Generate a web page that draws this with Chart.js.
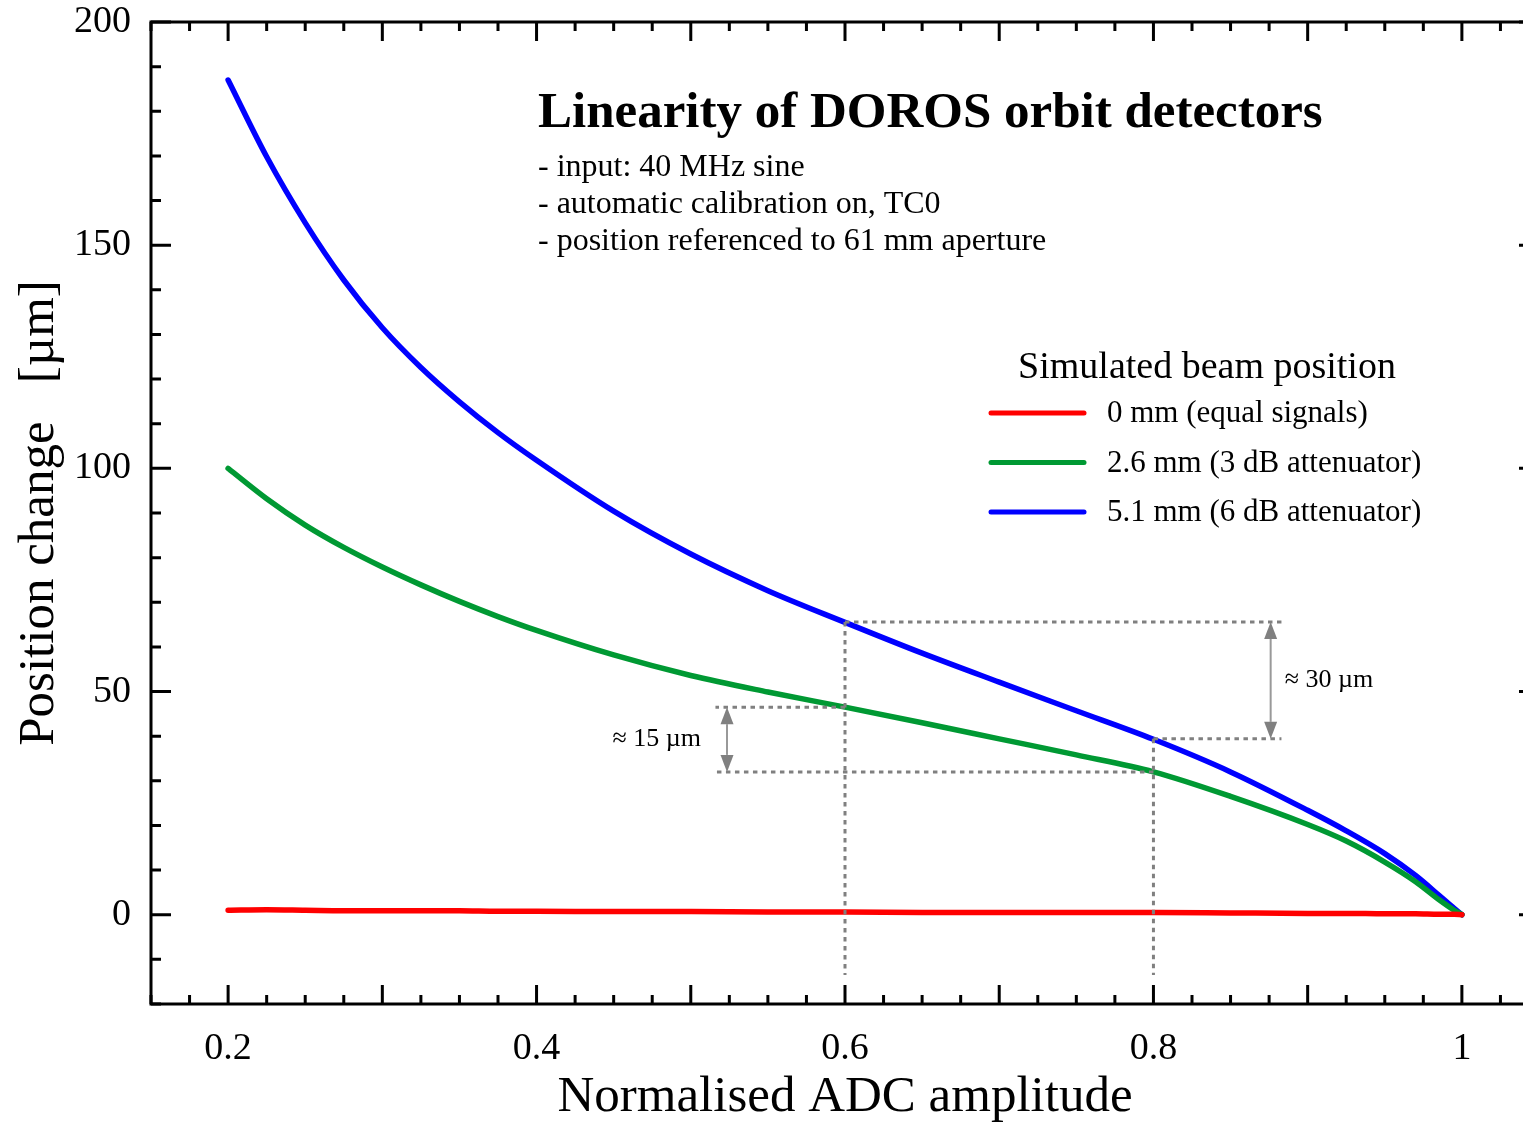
<!DOCTYPE html>
<html>
<head>
<meta charset="utf-8">
<script src="https://cdn.jsdelivr.net/npm/chart.js@4.4.1/dist/chart.umd.min.js"></script>
<style>
  html, body { margin: 0; padding: 0; background: #fff; overflow: hidden; }
  #wrap { width: 1560px; height: 1124px; }
</style>
</head>
<body>
<div id="wrap"><canvas id="chart" width="1560" height="1124"></canvas></div>
<script>
// values
const xValues = [0.2, 0.225, 0.25, 0.275, 0.3, 0.325, 0.35, 0.375, 0.4, 0.45, 0.5, 0.55, 0.6,
                 0.65, 0.7, 0.75, 0.8, 0.85, 0.9, 0.925, 0.95, 0.97, 0.985, 0.995, 1.0];
const redValues = [1.0, 1.1, 1.0, 0.9, 0.9, 0.9, 0.9, 0.8, 0.8, 0.7, 0.7, 0.6, 0.6,
                   0.5, 0.5, 0.5, 0.5, 0.4, 0.3, 0.3, 0.2, 0.2, 0.1, 0.1, 0.0];
const greenValues = [100, 93.2, 87.3, 82.3, 77.9, 73.9, 70.2, 66.8, 63.7, 58.2, 53.6, 49.9, 46.5,
                     43.0, 39.4, 35.8, 32.0, 26.5, 20.2, 16.5, 11.8, 7.4, 3.4, 1.0, 0];
const blueValues = [187.0, 169.8, 155.0, 142.2, 131.5, 122.6, 114.9, 108.0, 101.8, 90.4, 80.8, 72.6, 65.5,
                    58.6, 52.1, 45.7, 39.3, 32.0, 23.4, 18.8, 13.7, 8.8, 4.4, 1.4, 0];

const seriesLabels = ['0 mm (equal signals)', '2.6 mm (3 dB attenuator)', '5.1 mm (6 dB attenuator)'];
const seriesColors = ['#ff0000', '#009933', '#0000ff'];

const xTickLabels = [0.2, 0.4, 0.6, 0.8, 1];
const yTickLabels = [0, 50, 100, 150, 200];

const titleText = 'Linearity of DOROS orbit detectors';
const noteLines = ['- input: 40 MHz sine', '- automatic calibration on, TC0', '- position referenced to 61 mm aperture'];
const legendTitle = 'Simulated beam position';

// dotted guide lines: x of the markers, and the curve levels there
const markX = [0.6, 0.8];
const blueAtMark = [65.6, 39.4];
const greenAtMark = [46.5, 32.0];
const guideBottom = -13.5;
const arrowX = [0.5235, 0.876];
const guideEnds = [0.516, 0.883];
const arrowLabels = ['≈ 15 µm', '≈ 30 µm'];

const SERIF = '"Liberation Serif", "DejaVu Serif", serif';

function toPoints(ys) {
    return xValues.map((x, i) => ({ x: x, y: ys[i] }));
}

const allSeries = [redValues, greenValues, blueValues];

function isMultiple(v, step) {
    const r = v / step;
    return Math.abs(r - Math.round(r)) < 1e-6;
}

const framePlugin = {
    id: 'frame',
    afterDraw(chart) {
        const ctx = chart.ctx;
        const a = chart.chartArea;
        const xs = chart.scales.x;
        const ys = chart.scales.y;
        ctx.save();

        // dotted guides
        ctx.strokeStyle = '#808080';
        ctx.lineWidth = 3;
        ctx.setLineDash([4.5, 4.5]);
        const px = v => xs.getPixelForValue(v);
        const py = v => ys.getPixelForValue(v);
        const seg = (x1, y1, x2, y2) => {
            ctx.beginPath();
            ctx.moveTo(px(x1), py(y1));
            ctx.lineTo(px(x2), py(y2));
            ctx.stroke();
        };
        seg(markX[0], blueAtMark[0], markX[0], guideBottom);
        seg(markX[1], blueAtMark[1], markX[1], guideBottom);
        seg(markX[0], blueAtMark[0], guideEnds[1], blueAtMark[0]);
        seg(markX[1], blueAtMark[1], guideEnds[1], blueAtMark[1]);
        seg(markX[0], greenAtMark[0], guideEnds[0], greenAtMark[0]);
        seg(markX[1], greenAtMark[1], guideEnds[0], greenAtMark[1]);
        ctx.setLineDash([]);

        // double arrows
        const arrow = (xv, top, bottom) => {
            const x = px(xv), y1 = py(top), y2 = py(bottom);
            const hl = 17, hw = 6.5;
            ctx.strokeStyle = '#999999';
            ctx.lineWidth = 2;
            ctx.beginPath();
            ctx.moveTo(x, y1 + hl);
            ctx.lineTo(x, y2 - hl);
            ctx.stroke();
            ctx.fillStyle = '#808080';
            ctx.beginPath();
            ctx.moveTo(x, y1); ctx.lineTo(x - hw, y1 + hl); ctx.lineTo(x + hw, y1 + hl); ctx.closePath();
            ctx.fill();
            ctx.beginPath();
            ctx.moveTo(x, y2); ctx.lineTo(x - hw, y2 - hl); ctx.lineTo(x + hw, y2 - hl); ctx.closePath();
            ctx.fill();
        };
        arrow(arrowX[0], greenAtMark[0], greenAtMark[1]);
        arrow(arrowX[1], blueAtMark[0], blueAtMark[1]);

        ctx.fillStyle = '#000';
        ctx.font = '26px ' + SERIF;
        ctx.textBaseline = 'middle';
        ctx.textAlign = 'right';
        ctx.fillText(arrowLabels[0], px(arrowX[0]) - 26, (py(greenAtMark[0]) + py(greenAtMark[1])) / 2);
        ctx.textAlign = 'left';
        ctx.fillText(arrowLabels[1], px(arrowX[1]) + 14, (py(blueAtMark[0]) + py(blueAtMark[1])) / 2);

        // frame
        ctx.strokeStyle = '#000';
        ctx.lineWidth = 3;
        ctx.strokeRect(a.left, a.top, a.right - a.left, a.bottom - a.top);

        // inward ticks
        ctx.lineWidth = 3;
        ctx.beginPath();
        xs.ticks.forEach(t => {
            const x = xs.getPixelForValue(t.value);
            const len = isMultiple(t.value, 0.1) ? 19 : 9;
            ctx.moveTo(x, a.bottom); ctx.lineTo(x, a.bottom - len);
            ctx.moveTo(x, a.top); ctx.lineTo(x, a.top + len);
        });
        ys.ticks.forEach(t => {
            const y = ys.getPixelForValue(t.value);
            const len = isMultiple(t.value, 50) ? 20 : 10;
            ctx.moveTo(a.left, y); ctx.lineTo(a.left + len, y);
            ctx.moveTo(a.right, y); ctx.lineTo(a.right - len, y);
        });
        ctx.stroke();

        // title and notes
        ctx.fillStyle = '#000';
        ctx.textAlign = 'left';
        ctx.textBaseline = 'alphabetic';
        ctx.font = 'bold 51px ' + SERIF;
        ctx.fillText(titleText, 538, 127);
        ctx.font = '32px ' + SERIF;
        noteLines.forEach((s, i) => ctx.fillText(s, 538, 176 + i * 37));

        // legend
        ctx.font = '38px ' + SERIF;
        ctx.textAlign = 'center';
        ctx.fillText(legendTitle, 1207, 378);
        ctx.font = '31px ' + SERIF;
        ctx.textAlign = 'left';
        ctx.lineCap = 'round';
        seriesLabels.forEach((s, i) => {
            const y = 413 + i * 49.5;
            ctx.strokeStyle = seriesColors[i];
            ctx.lineWidth = 5;
            ctx.beginPath();
            ctx.moveTo(991, y);
            ctx.lineTo(1084, y);
            ctx.stroke();
            ctx.fillStyle = '#000';
            ctx.textBaseline = 'middle';
            ctx.fillText(s, 1107, y + 1);
        });
        ctx.restore();
    }
};

new Chart(document.getElementById('chart'), {
    type: 'line',
    data: {
        datasets: allSeries.map((ys, i) => ({
            label: seriesLabels[i],
            data: toPoints(ys),
            borderColor: seriesColors[i],
            borderWidth: 5.5,
            pointRadius: 0,
            fill: false,
            cubicInterpolationMode: 'monotone',
            borderCapStyle: 'round'
        }))
    },
    options: {
        responsive: false,
        animation: false,
        devicePixelRatio: 1,
        layout: { padding: { top: 22, right: 21, left: 0, bottom: 0 } },
        plugins: { legend: { display: false }, tooltip: { enabled: false } },
        scales: {
            x: {
                type: 'linear',
                min: 0.15,
                max: 1.05,
                afterFit: s => { s.height = 120; s.paddingLeft = 0; s.paddingRight = 0; },
                grid: { display: false, drawTicks: false },
                border: { display: false },
                ticks: {
                    stepSize: 0.025,
                    maxTicksLimit: 100,
                    autoSkip: false,
                    maxRotation: 0,
                    padding: 22,
                    color: '#000',
                    font: { family: SERIF, size: 38 },
                    callback: v => xTickLabels.some(t => Math.abs(t - v) < 1e-6) ? String(Number(v.toFixed(1))) : ''
                },
                title: {
                    display: true,
                    text: 'Normalised ADC amplitude',
                    color: '#000',
                    font: { family: SERIF, size: 51, lineHeight: 1.05 },
                    padding: { top: 0, bottom: 0 }
                }
            },
            y: {
                min: -20,
                max: 200,
                afterFit: s => { s.width = 151; s.paddingTop = 0; s.paddingBottom = 0; },
                grid: { display: false, drawTicks: false },
                border: { display: false },
                ticks: {
                    stepSize: 10,
                    maxTicksLimit: 100,
                    autoSkip: false,
                    padding: 20,
                    color: '#000',
                    font: { family: SERIF, size: 38 },
                    callback: v => yTickLabels.includes(v) ? String(v) : ''
                },
                title: {
                    display: true,
                    text: 'Position change   [µm]',
                    color: '#000',
                    font: { family: SERIF, size: 51, lineHeight: 1.05 },
                    padding: { top: 13, bottom: 0 }
                }
            }
        }
    },
    plugins: [framePlugin]
});
</script>
</body>
</html>
